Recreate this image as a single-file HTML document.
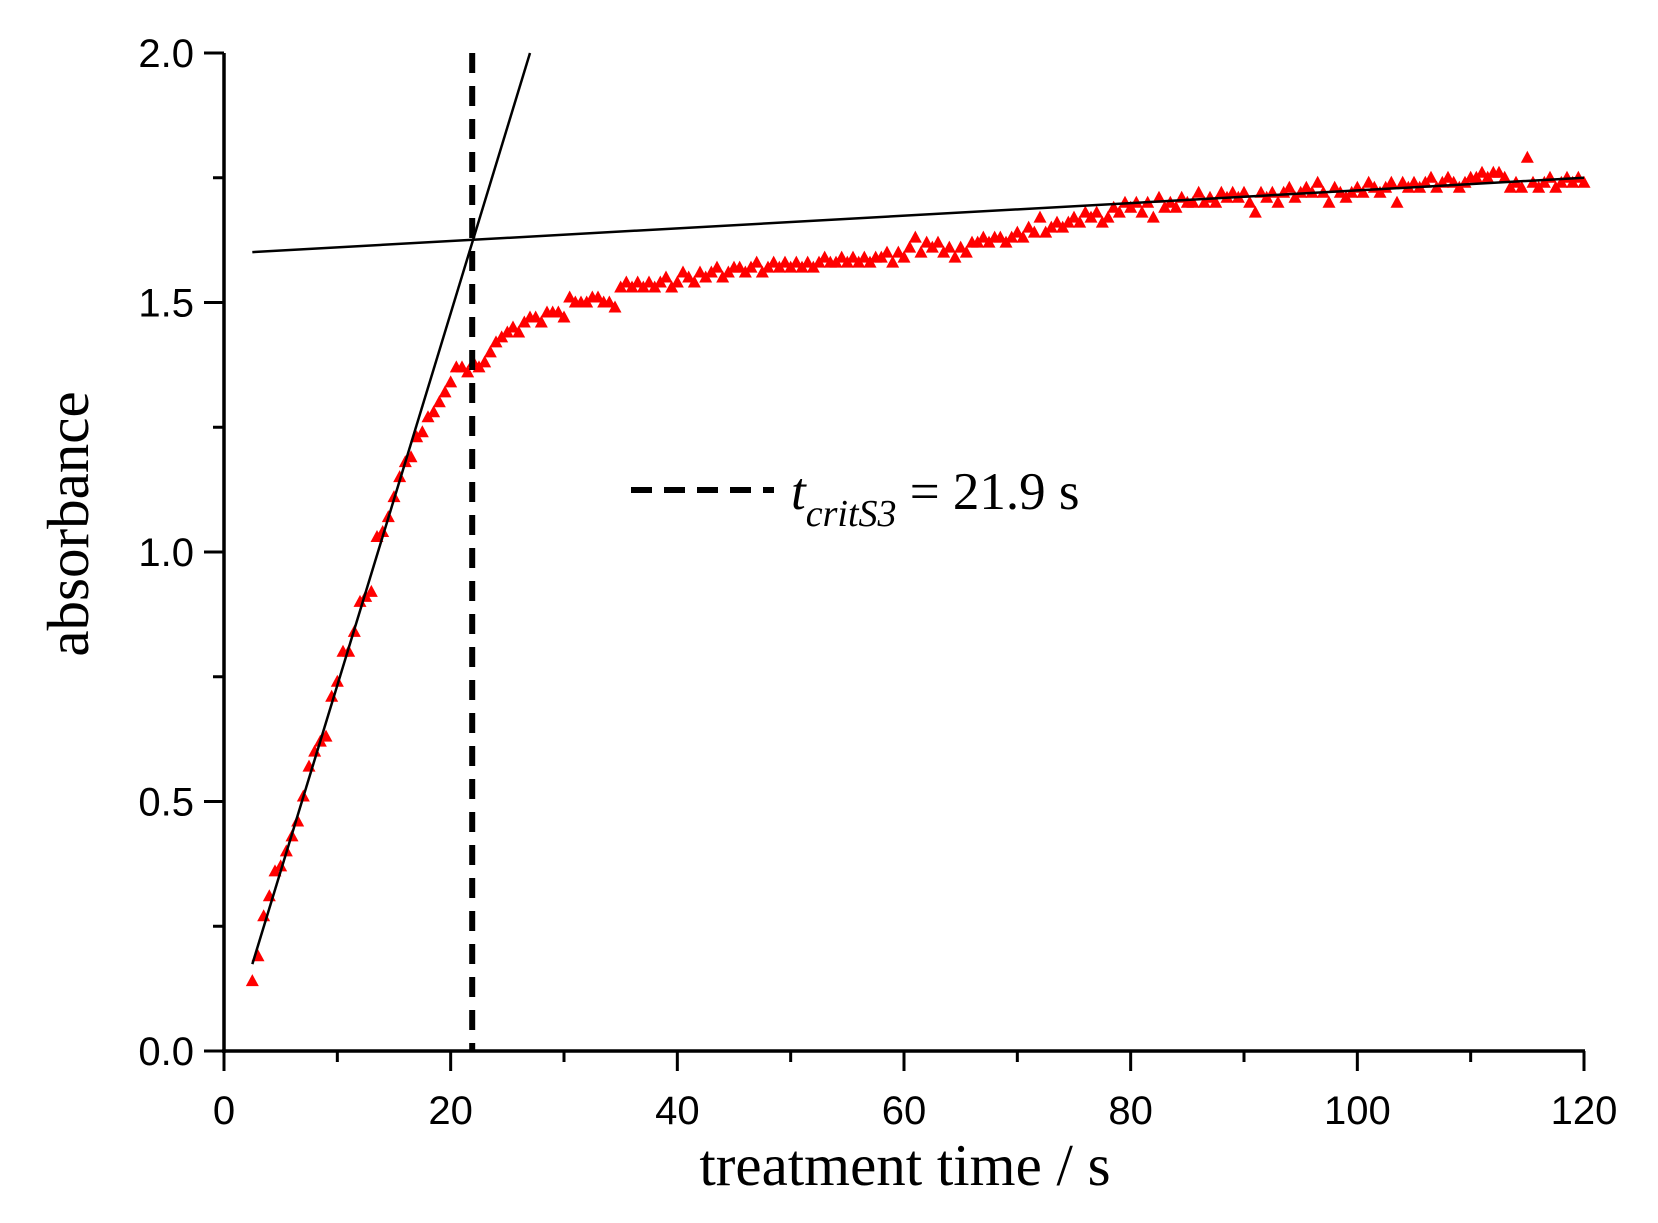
<!DOCTYPE html>
<html><head><meta charset="utf-8"><style>
html,body{margin:0;padding:0;background:#fff;}
svg{display:block;}
</style></head><body>
<svg id="chart" width="1658" height="1223" viewBox="0 0 1658 1223" xmlns="http://www.w3.org/2000/svg">
<g id="marks"></g>
<g id="axes"></g>
</svg>
<script>
const xTicks=[0,20,40,60,80,100,120];
const yTicks=[0.0,0.5,1.0,1.5,2.0];
const yTickLabels=["0.0","0.5","1.0","1.5","2.0"];
const tStart=2.5, tStep=0.5;
const absorbance=[0.14,0.19,0.27,0.31,0.36,0.37,0.40,0.43,0.46,0.51,0.57,0.60,0.62,0.63,0.71,0.74,0.80,0.80,0.84,0.90,0.91,0.92,1.03,1.04,1.07,1.11,1.15,1.18,1.19,1.23,1.24,1.27,1.28,1.30,1.32,1.34,1.37,1.37,1.36,1.38,
1.37,1.38,1.40,1.42,1.43,1.44,1.45,1.44,1.46,1.47,1.47,1.46,1.48,1.48,1.48,1.47,
1.51,1.50,1.50,1.50,1.51,1.51,1.50,1.50,1.49,1.53,1.54,1.53,1.54,1.53,1.54,1.53,1.54,1.55,1.53,1.54,
1.56,1.55,1.54,1.56,1.55,1.56,1.57,1.55,1.56,1.57,1.57,1.56,1.57,1.58,1.56,1.57,1.58,1.57,1.58,1.57,
1.58,1.57,1.58,1.57,1.58,1.59,1.58,1.58,1.59,1.58,1.59,1.58,1.59,1.58,1.59,1.59,1.60,1.58,1.60,1.59,
1.61,1.63,1.60,1.62,1.61,1.62,1.60,1.61,1.59,1.61,1.60,1.62,1.62,1.63,1.62,1.63,1.63,1.62,1.63,1.64,
1.63,1.65,1.64,1.67,1.64,1.65,1.66,1.65,1.66,1.67,1.66,1.68,1.67,1.68,1.66,1.67,1.69,1.68,1.70,1.69,
1.70,1.68,1.70,1.67,1.71,1.69,1.70,1.69,1.71,1.70,1.70,1.72,1.70,1.71,1.70,1.72,1.71,1.72,1.71,1.72,
1.70,1.68,1.72,1.71,1.72,1.70,1.72,1.73,1.71,1.72,1.73,1.72,1.74,1.72,1.70,1.73,1.72,1.71,1.72,1.73,
1.72,1.74,1.73,1.72,1.73,1.74,1.70,1.74,1.73,1.74,1.73,1.74,1.75,1.73,1.74,1.75,1.74,1.73,1.74,1.75,
1.75,1.76,1.75,1.76,1.76,1.75,1.73,1.74,1.73,1.79,1.74,1.73,1.74,1.75,1.73,1.74,1.75,1.74,1.75,1.74];
const steepFitX=[2.5,27.0];
const steepFitY=[0.174,2.0];
const flatFitX=[2.5,120];
const flatFitY=[1.601,1.750];
const tCrit=21.9;

const NS="http://www.w3.org/2000/svg";
const X0=224,X1=1584,Y0=1051,Y1=53;
const xs=v=>X0+(v-0)*(X1-X0)/120;
const ys=v=>Y0-(v-0)*(Y0-Y1)/2.0;
function mk(tag,attrs,parent){const e=document.createElementNS(NS,tag);for(const k in attrs)e.setAttribute(k,attrs[k]);parent.appendChild(e);return e;}
const marks=document.getElementById('marks'),axes=document.getElementById('axes');

absorbance.forEach((v,i)=>{
  const t=tStart+i*tStep, cx=xs(t), cy=ys(v);
  const p=mk('polygon',{points:`${cx},${cy-7} ${cx-6.5},${cy+5} ${cx+6.5},${cy+5}`,fill:'#ff0000'},marks);
  
  
});
let l=mk('line',{x1:xs(steepFitX[0]),y1:ys(steepFitY[0]),x2:xs(steepFitX[1]),y2:ys(steepFitY[1]),stroke:'#000','stroke-width':2.5},marks);


l=mk('line',{x1:xs(flatFitX[0]),y1:ys(flatFitY[0]),x2:xs(flatFitX[1]),y2:ys(flatFitY[1]),stroke:'#000','stroke-width':2.5},marks);


l=mk('line',{x1:xs(tCrit),y1:ys(2.0),x2:xs(tCrit),y2:ys(0),stroke:'#000','stroke-width':6,'stroke-dasharray':'20 13'},marks);



l=mk('line',{x1:X0,y1:Y1,x2:X0,y2:Y0+2,stroke:'#000','stroke-width':3.5},axes);


l=mk('line',{x1:X0-2,y1:Y0,x2:X1+1,y2:Y0,stroke:'#000','stroke-width':3.5},axes);


for(let v=0;v<=120;v+=10){
  const major=v%20===0;
  const tk=mk('line',{x1:xs(v),y1:Y0,x2:xs(v),y2:Y0+(major?20:11),stroke:'#000','stroke-width':3},axes);
  
  
}
xTicks.forEach(v=>{
  const t=mk('text',{x:xs(v),y:1124,'text-anchor':'middle','font-family':'Liberation Sans, sans-serif','font-size':40},axes);
  t.textContent=String(v);
  
  
});
for(let v=0;v<=2.0001;v+=0.25){
  const major=Math.abs(v*2-Math.round(v*2))<1e-6;
  const tk=mk('line',{x1:X0-(major?20:11),y1:ys(v),x2:X0,y2:ys(v),stroke:'#000','stroke-width':3},axes);
  
  
}
yTicks.forEach((v,i)=>{
  const t=mk('text',{x:194,y:ys(v)+14,'text-anchor':'end','font-family':'Liberation Sans, sans-serif','font-size':40},axes);
  t.textContent=yTickLabels[i];
  
  
});
let tt=mk('text',{x:905,y:1185,'text-anchor':'middle','font-family':'Liberation Serif, serif','font-size':59},axes);
tt.textContent='treatment time / s';


tt=mk('text',{x:0,y:0,'text-anchor':'middle','font-family':'Liberation Serif, serif','font-size':59,transform:'translate(88,524) rotate(-90)'},axes);
tt.textContent='absorbance';



l=mk('line',{x1:631,y1:490,x2:774,y2:490,stroke:'#000','stroke-width':6,'stroke-dasharray':'21 12'},axes);


const lt=mk('text',{x:791,y:509,'font-family':'Liberation Serif, serif','font-size':53},axes);


lt.innerHTML='<tspan font-style="italic">t</tspan><tspan font-style="italic" font-size="38" dy="17">critS3</tspan><tspan dy="-17"> = 21.9 s</tspan>';
</script>
</body></html>
